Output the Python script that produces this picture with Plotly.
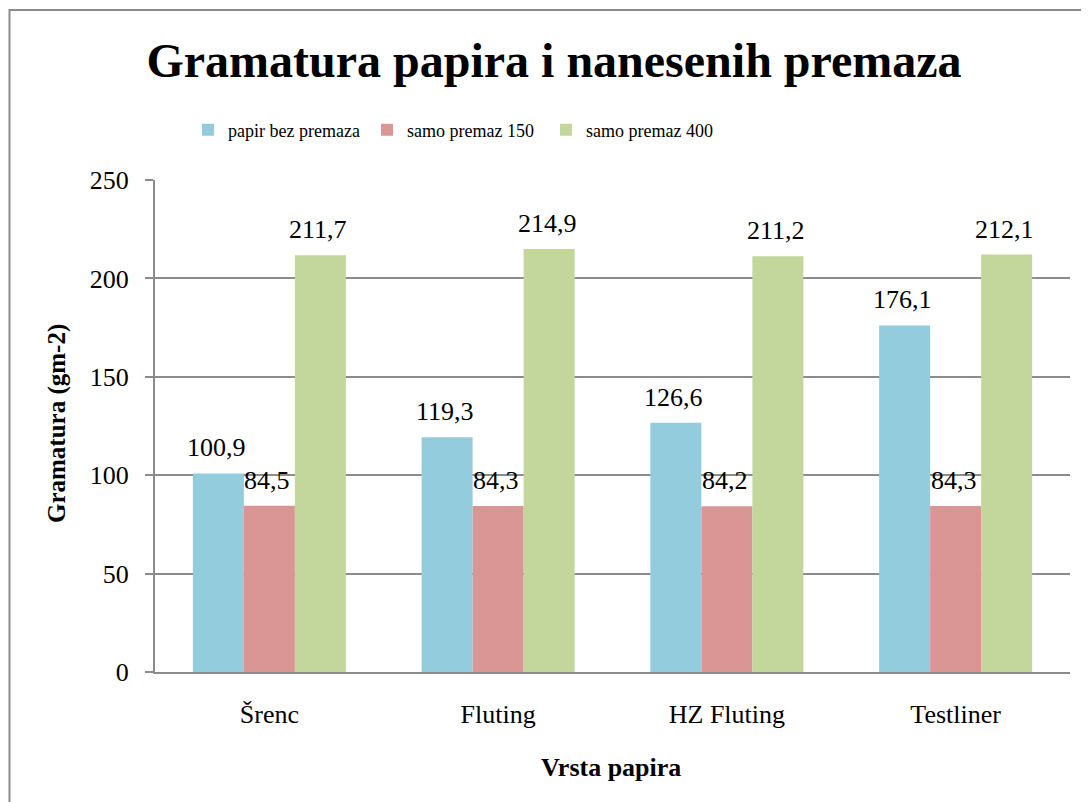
import plotly.graph_objects as go

categories = ["Šrenc", "Fluting", "HZ Fluting", "Testliner"]
papir_bez_premaza = [100.9, 119.3, 126.6, 176.1]
samo_premaz_150 = [84.5, 84.3, 84.2, 84.3]
samo_premaz_400 = [211.7, 214.9, 211.2, 212.1]
series_names = ["papir bez premaza", "samo premaz 150", "samo premaz 400"]
colors = ["#93CDDD", "#D99694", "#C3D69B"]
y_ticks = [0, 50, 100, 150, 200, 250]

FONT = "Liberation Serif, Times New Roman, serif"
OFF = 8  # page body margin offset
W, H = 1089 - OFF, 802 - OFF
L, T = 155 - OFF, 180 - OFF
R = W - (1070 - OFF)
B = H - (672 - OFF)
pw, ph = W - L - R, H - T - B

def px_x(p):
    return (p - OFF - L) / pw

def px_y(p):
    return (H - B - (p - OFF)) / ph

fig = go.Figure()
all_series = [papir_bez_premaza, samo_premaz_150, samo_premaz_400]
for name, vals, col in zip(series_names, all_series, colors):
    fig.add_trace(go.Bar(
        x=categories, y=vals, name=name,
        marker=dict(color=col, line=dict(width=0)),
    ))

bargap = 0.331
cat_w = pw / len(categories)
bar_w = cat_w * (1 - bargap) / 3

annotations = []
for si, vals in enumerate(all_series):
    for cat, v in zip(categories, vals):
        annotations.append(dict(
            x=cat, y=v, xref="x", yref="y",
            text=f"{v:.1f}".replace(".", ","),
            showarrow=False, xanchor="center", yanchor="bottom",
            xshift=(si - 1) * bar_w - 2, yshift=9,
            font=dict(family=FONT, size=26, color="#000000"),
        ))

annotations += [
    dict(text="<b>Gramatura (gm-2)</b>", textangle=-90,
         x=px_x(57), y=px_y(424), xref="paper", yref="paper",
         xanchor="center", yanchor="middle", showarrow=False,
         font=dict(family=FONT, size=25, color="#000000")),
    dict(text="<b>Vrsta papira</b>",
         x=px_x(611), y=px_y(767), xref="paper", yref="paper",
         xanchor="center", yanchor="middle", showarrow=False,
         font=dict(family=FONT, size=26, color="#000000")),
]

fig.update_layout(
    width=W, height=H,
    margin=dict(l=L, r=R, t=T, b=B),
    paper_bgcolor="white", plot_bgcolor="white",
    separators=",.",
    barmode="group", bargap=bargap, bargroupgap=0,
    font=dict(family=FONT, color="#000000"),
    title=dict(
        text="<b>Gramatura papira i nanesenih premaza</b>",
        font=dict(family=FONT, size=48, color="#000000"),
        x=px_x(554), xref="paper", xanchor="center",
        y=1 - (60 - OFF) / H, yref="container", yanchor="middle",
    ),
    legend=dict(
        orientation="h",
        x=px_x(188), xanchor="left",
        y=px_y(130), yanchor="middle",
        font=dict(family=FONT, size=18, color="#000000"),
        bgcolor="rgba(0,0,0,0)",
        entrywidth=134, entrywidthmode="pixels",
    ),
    xaxis=dict(
        showline=True, linecolor="#8C8C8C", linewidth=2,
        ticks="", showgrid=False,
        tickfont=dict(family=FONT, size=26, color="#000000"),
        ticklabelstandoff=18,
    ),
    yaxis=dict(
        range=[0, 250], tickvals=y_ticks,
        showline=True, linecolor="#8C8C8C", linewidth=2,
        ticks="outside", ticklen=8, tickcolor="#8C8C8C", tickwidth=2,
        showgrid=True, gridcolor="#8C8C8C", gridwidth=1.5,
        zeroline=False,
        tickfont=dict(family=FONT, size=26, color="#000000"),
        ticklabelstandoff=11,
    ),
    annotations=annotations,
    shapes=[
        dict(type="rect", xref="paper", yref="paper",
             x0=px_x(OFF + 1.5), x1=px_x(1100), y0=px_y(815), y1=px_y(10),
             line=dict(color="#8C8C8C", width=2), layer="below"),
    ],
)

fig.write_html("out.html")
